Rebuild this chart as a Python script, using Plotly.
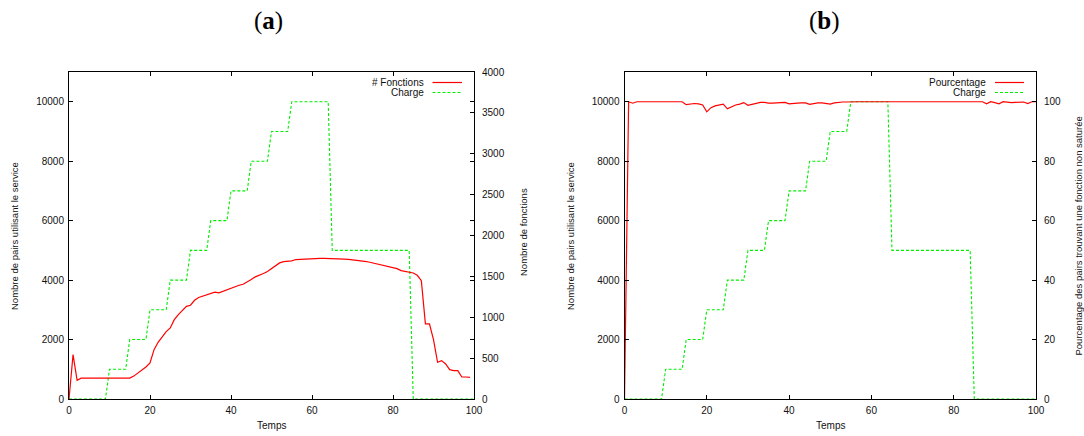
import plotly.graph_objects as go

W, H = 1084, 436

temps = list(range(0, 101))

# Charge (number of peers using the service), same in both panels
charge = [0, 0, 0, 0, 0, 0, 0, 0, 0, 0,
          1000, 1000, 1000, 1000, 1000,
          2000, 2000, 2000, 2000, 2000,
          3000, 3000, 3000, 3000, 3000,
          4000, 4000, 4000, 4000, 4000,
          5000, 5000, 5000, 5000, 5000,
          6000, 6000, 6000, 6000, 6000,
          7000, 7000, 7000, 7000, 7000,
          8000, 8000, 8000, 8000, 8000,
          9000, 9000, 9000, 9000, 9000,
          10000, 10000, 10000, 10000, 10000, 10000, 10000, 10000, 10000, 10000,
          5000, 5000, 5000, 5000, 5000, 5000, 5000, 5000, 5000, 5000,
          5000, 5000, 5000, 5000, 5000, 5000, 5000, 5000, 5000, 5000,
          0, 0, 0, 0, 0, 0, 0, 0, 0, 0, 0, 0, 0, 0, 0, 0]

# (a) number of functions, t = 0..99
fonctions = [0, 543, 228,
             255, 255, 255, 255, 255, 255, 255, 255, 255, 255, 255, 255, 255,
             280, 318, 351, 392, 441, 604, 694, 767, 824, 869,
             971, 1033, 1086, 1134, 1147, 1208, 1241, 1257, 1269, 1286,
             1306, 1298, 1318, 1339, 1355, 1379, 1392, 1404, 1428, 1461,
             1494, 1510, 1535, 1559, 1592, 1636, 1665, 1681, 1686, 1690,
             1706, 1710, 1714, 1718, 1720, 1721, 1721, 1721, 1721, 1720,
             1719, 1716, 1712, 1708, 1704, 1698, 1692, 1684, 1676, 1664,
             1651, 1641, 1631, 1615, 1602, 1594, 1570, 1558, 1553, 1541,
             1513, 1448, 920, 920, 726, 449, 469, 428, 359, 347,
             347, 269, 269, 265]
temps_a = list(range(0, 100))

# (b) percentage of peers finding a non-saturated function, t = 0..100
pourcentage = [0, 100, 99.5,
               100, 100, 100, 100, 100, 100, 100, 100, 100, 100, 100, 100,
               99.0, 99.3, 99.4, 99.3, 98.9, 96.6, 98.0, 98.6, 99.0, 99.2,
               97.6, 98.3, 98.9, 99.2, 99.7, 98.8, 99.2, 99.5, 99.8, 99.8,
               99.5, 99.5, 99.6, 99.6, 99.8, 99.3, 99.5, 99.5, 99.6, 99.6,
               99.1, 99.4, 99.6, 99.6, 99.5, 99.2, 99.6, 99.8, 99.9, 99.9,
               100, 100, 100, 100, 100, 100, 100, 100, 100, 100, 100,
               100, 100, 100, 100, 100, 100, 100, 100, 100, 100, 100,
               100, 100, 100, 100, 100, 100, 100, 100, 100, 100, 100,
               99.3, 100, 99.7, 99.3, 100, 99.8, 99.7, 99.8, 99.8, 99.9,
               99.4, 100, 100]

x_ticks = [0, 20, 40, 60, 80, 100]
y_left_ticks = [0, 2000, 4000, 6000, 8000, 10000]
y2_ticks = [0, 500, 1000, 1500, 2000, 2500, 3000, 3500, 4000]
y4_ticks = [0, 20, 40, 60, 80, 100]

RED = "#ff0000"
GREEN = "#00ee00"
FONT = "Liberation Sans"


def px(x):
    return x / W


def py(y):
    return 1 - y / H


fig = go.Figure()

fig.add_trace(go.Scatter(x=temps_a, y=fonctions, mode="lines", xaxis="x", yaxis="y2",
                         line=dict(color=RED, width=1.2), name="# Fonctions", showlegend=False))
fig.add_trace(go.Scatter(x=temps, y=charge, mode="lines", xaxis="x", yaxis="y",
                         line=dict(color=GREEN, width=1.1, dash="3px,2px"), name="Charge", showlegend=False))
fig.add_trace(go.Scatter(x=temps, y=pourcentage, mode="lines", xaxis="x2", yaxis="y4",
                         line=dict(color=RED, width=1.2), name="Pourcentage", showlegend=False))
fig.add_trace(go.Scatter(x=temps, y=charge, mode="lines", xaxis="x2", yaxis="y3",
                         line=dict(color=GREEN, width=1.1, dash="3px,2px"), name="Charge", showlegend=False))

ydom = [py(399), py(72)]
xa_dom = [px(69), px(474)]
xb_dom = [px(624.5), px(1036)]

tickfont = dict(family=FONT, size=10, color="#111")
common_x = dict(range=[0, 100], tickvals=x_ticks, ticks="inside", ticklen=4, tickcolor="black",
                showline=True, linecolor="black", linewidth=1, mirror="ticks",
                showgrid=False, zeroline=False, tickfont=tickfont, ticklabelstandoff=2)
common_yl = dict(range=[0, 11000], tickvals=y_left_ticks, tickformat="d", ticks="inside", ticklen=4,
                 tickcolor="black", showline=True, linecolor="black", linewidth=1, mirror="ticks",
                 showgrid=False, zeroline=False, tickfont=tickfont, domain=ydom, ticklabelstandoff=2)
common_yr = dict(ticks="inside", ticklen=4, tickcolor="black", side="right", tickformat="d",
                 showline=False, showgrid=False, zeroline=False, tickfont=tickfont,
                 ticklabelstandoff=7)

fig.update_layout(
    width=W, height=H,
    margin=dict(l=0, r=0, t=0, b=0, autoexpand=False),
    paper_bgcolor="white", plot_bgcolor="white",
    showlegend=False,
    xaxis=dict(domain=xa_dom, anchor="y", **common_x),
    yaxis=dict(anchor="x", **common_yl),
    yaxis2=dict(anchor="x", overlaying="y", range=[0, 4000], tickvals=y2_ticks, **common_yr),
    xaxis2=dict(domain=xb_dom, anchor="y3", **common_x),
    yaxis3=dict(anchor="x2", **common_yl),
    yaxis4=dict(anchor="x2", overlaying="y3", range=[0, 110], tickvals=y4_ticks, **common_yr),
)

lab = dict(family=FONT, size=9.5, color="#111")
C = dict(xref="paper", yref="paper", showarrow=False, xanchor="center", yanchor="middle")
ann = []
# panel titles
ann.append(dict(text="(<b>a</b>)", x=px(268), y=py(21),
                font=dict(family="Liberation Serif", size=25, color="black"), **C))
ann.append(dict(text="(<b>b</b>)", x=px(824), y=py(21),
                font=dict(family="Liberation Serif", size=25, color="black"), **C))
# axis titles
ann.append(dict(text="Temps", x=px(271.5), y=py(425.5), font=dict(family=FONT, size=10, color="#111"), **C))
ann.append(dict(text="Temps", x=px(830), y=py(425.5), font=dict(family=FONT, size=10, color="#111"), **C))
ann.append(dict(text="Nombre de pairs utilisant le service", x=px(14), y=py(236),
                textangle=-90, font=lab, **C))
ann.append(dict(text="Nombre de fonctions", x=px(523), y=py(232), textangle=-90, font=lab, **C))
ann.append(dict(text="Nombre de pairs utilisant le service", x=px(570), y=py(236),
                textangle=-90, font=lab, **C))
ann.append(dict(text="Pourcentage des pairs trouvant une fonction non saturée", x=px(1077.5), y=py(236),
                textangle=-90, font=lab, **C))

# legends (text right-aligned, key sample to the right, gnuplot style)
legend_rows = [
    ("# Fonctions", 426, 432.5, 462, 82.5, RED, "solid"),
    ("Charge", 426, 432.5, 462, 92.5, GREEN, "dash"),
    ("Pourcentage", 988, 995, 1024, 82.5, RED, "solid"),
    ("Charge", 988, 995, 1024, 92.5, GREEN, "dash"),
]
shapes = []
for text, tx, lx0, lx1, yy, col, dash in legend_rows:
    ann.append(dict(text=text, x=px(tx), y=py(yy), xref="paper", yref="paper", showarrow=False,
                    xanchor="right", yanchor="middle", font=dict(family=FONT, size=10, color="#111")))
    shapes.append(dict(type="line", xref="paper", yref="paper", x0=px(lx0), x1=px(lx1), y0=py(yy), y1=py(yy),
                       line=dict(color=col, width=1.2 if dash == "solid" else 1.1,
                                 dash="solid" if dash == "solid" else "3px,2px")))

fig.update_layout(annotations=ann, shapes=shapes)

# remove the default page margin so the figure fills the 1084x436 window exactly
fig.write_html("out.html",
               config={"displayModeBar": False},
               post_script="document.body.style.margin='0';document.body.style.overflow='hidden';")
